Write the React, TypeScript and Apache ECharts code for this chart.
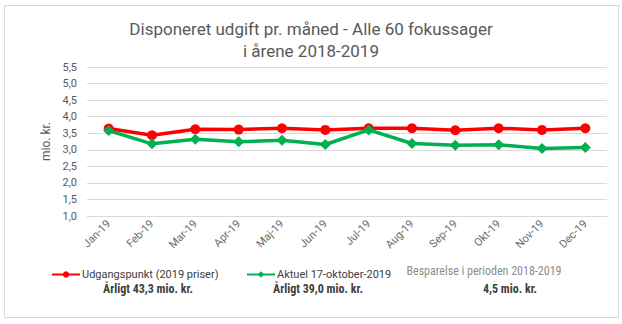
import React, { useEffect, useRef } from "react";
import * as echarts from "echarts";

const categories = ["Jan-19", "Feb-19", "Mar-19", "Apr-19", "Maj-19", "Jun-19", "Jul-19", "Aug-19", "Sep-19", "Okt-19", "Nov-19", "Dec-19"];
const baseline = [3.64, 3.44, 3.62, 3.61, 3.65, 3.6, 3.65, 3.65, 3.59, 3.65, 3.6, 3.65];
const actual = [3.58, 3.18, 3.32, 3.24, 3.29, 3.16, 3.6, 3.19, 3.14, 3.15, 3.04, 3.07];
const baselineName = "Udgangspunkt (2019 priser)";
const actualName = "Aktuel 17-oktober-2019";
const titleLines = ["Disponeret udgift pr. måned - Alle 60 fokussager", "i årene 2018-2019"];
const notes = ["Årligt 43,3 mio. kr.", "Årligt 39,0 mio. kr.", "Besparelse i perioden 2018-2019", "4,5 mio. kr."];

const FONT = "Roboto, 'Liberation Sans', sans-serif";
const NARROW = "'Liberation Sans Narrow', 'Roboto Condensed', 'Liberation Sans', sans-serif";

export default function App() {
  const ref = useRef<HTMLDivElement>(null);
  useEffect(() => {
    if (!ref.current) return;
    const chart = echarts.init(ref.current, null, { renderer: "svg" });
    chart.setOption({
      animation: false,
      backgroundColor: "#fff",
      title: {
        text: titleLines.join("\n"),
        left: "center",
        top: 13,
        textStyle: { color: "#595959", fontSize: 17, fontWeight: "normal", fontFamily: FONT, lineHeight: 22 },
      },
      legend: [
        {
          data: [baselineName],
          left: 46,
          top: 264,
          itemWidth: 28,
          itemHeight: 8,
          textStyle: { color: "#404040", fontSize: 11, fontFamily: FONT, padding: [0, 0, 0, -3] },
        },
        {
          data: [actualName],
          left: 241,
          top: 264,
          itemWidth: 28,
          itemHeight: 8,
          textStyle: { color: "#404040", fontSize: 11, fontFamily: FONT, padding: [0, 0, 0, -3] },
        },
      ],
      grid: { left: 87, right: 15, top: 67, bottom: 108 },
      xAxis: {
        type: "category",
        data: categories,
        boundaryGap: true,
        axisLine: { show: true, lineStyle: { color: "#d9d9d9" } },
        axisTick: { show: false },
        axisLabel: { rotate: 45, margin: 6, color: "#6b6b6b", fontSize: 11, fontFamily: FONT, interval: 0 },
      },
      yAxis: {
        type: "value",
        min: 1,
        max: 5.5,
        interval: 0.5,
        name: "mio. kr.",
        nameLocation: "middle",
        nameGap: 35,
        nameRotate: 90,
        nameTextStyle: { color: "#595959", fontSize: 12, fontFamily: FONT },
        axisLine: { show: false },
        axisTick: { show: false },
        splitLine: { lineStyle: { color: "#d9d9d9" } },
        axisLabel: {
          color: "#595959",
          fontSize: 11,
          fontFamily: FONT,
          margin: 10,
          formatter: (v: number) => v.toFixed(1).replace(".", ","),
        },
      },
      series: [
        {
          name: baselineName,
          type: "line",
          data: baseline,
          symbol: "circle",
          symbolSize: 10,
          lineStyle: { color: "#ff0000", width: 3.5 },
          itemStyle: { color: "#ff0000" },
          z: 2,
        },
        {
          name: actualName,
          type: "line",
          data: actual,
          symbol: "diamond",
          symbolSize: 11,
          lineStyle: { color: "#00b050", width: 3.5 },
          itemStyle: { color: "#00b050" },
          z: 3,
        },
      ],
      graphic: [
        {
          type: "rect",
          shape: { x: 4.5, y: 5.5, width: 614, height: 312 },
          style: { fill: "none", stroke: "#d9d9d9", lineWidth: 1 },
          silent: true,
        },
        {
          type: "text",
          x: 148,
          y: 289,
          style: { text: notes[0], fill: "#404040", font: `bold 12px ${NARROW}`, textAlign: "center", textVerticalAlign: "middle" },
        },
        {
          type: "text",
          x: 318,
          y: 289,
          style: { text: notes[1], fill: "#404040", font: `bold 12px ${NARROW}`, textAlign: "center", textVerticalAlign: "middle" },
        },
        {
          type: "text",
          x: 484,
          y: 271,
          style: { text: notes[2], fill: "#8c8c8c", font: `12px ${NARROW}`, textAlign: "center", textVerticalAlign: "middle" },
        },
        {
          type: "text",
          x: 510,
          y: 289,
          style: { text: notes[3], fill: "#404040", font: `bold 12px ${NARROW}`, textAlign: "center", textVerticalAlign: "middle" },
        },
      ],
    });
    return () => chart.dispose();
  }, []);
  return <div ref={ref} style={{ position: "fixed", left: 0, top: 0, width: 622, height: 324 }} />;
}
